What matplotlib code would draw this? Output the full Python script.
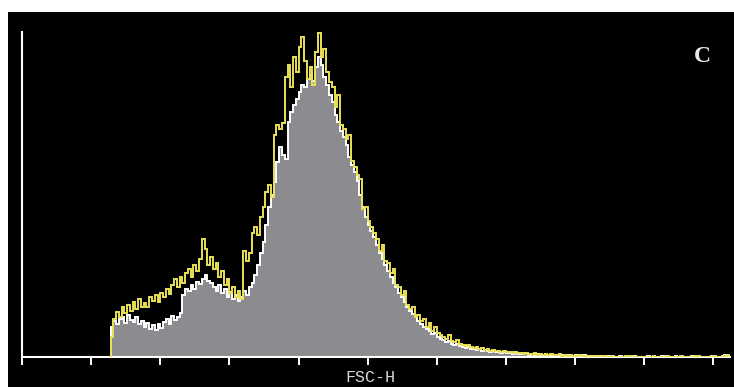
import matplotlib
matplotlib.use("Agg")
import matplotlib.pyplot as plt
from matplotlib.patches import Rectangle
import numpy as np

# channel edges (FSC-H, 256 channel scale), data starts at channel 32
edges = np.arange(32, 257)

# grey filled histogram (white outline)
grey_counts = [
    30, 36, 33, 38, 40, 34, 42, 37, 35, 40, 33, 36, 30, 34, 28, 32,
    27, 33, 29, 35, 38, 33, 41, 37, 40, 44, 62, 68, 66, 72, 68, 75,
    73, 78, 82, 76, 74, 70, 66, 72, 64, 68, 60, 65, 58, 62, 56, 60,
    66, 62, 70, 74, 82, 92, 104, 115, 132, 150, 162, 175, 195, 210, 202, 198,
    235, 245, 252, 258, 265, 272, 270, 278, 282, 276, 290, 300, 292, 280, 272, 262,
    255, 242, 235, 226, 220, 212, 200, 192, 185, 176, 162, 150, 140, 132, 126, 120,
    112, 104, 98, 92, 86, 80, 74, 70, 64, 60, 55, 50, 46, 43, 40, 36,
    33, 30, 28, 26, 23, 24, 20, 18, 17, 15, 16, 13, 12, 13, 11, 10,
    9, 10, 8, 8, 7, 8, 6, 7, 6, 5, 6, 5, 5, 4, 5, 4,
    4, 3, 4, 3, 3, 3, 4, 2, 3, 2, 3, 2, 2, 3, 2, 2,
    2, 1, 2, 2, 1, 2, 1, 1, 2, 1, 1, 2, 1, 0, 1, 1,
    0, 1, 0, 0, 1, 0, 0, 0, 1, 0, 0, 0, 0, 1, 0, 0,
    0, 0, 1, 0, 0, 0, 0, 1, 0, 0, 0, 0, 1, 0, 0, 0,
    0, 0, 1, 0, 0, 0, 0, 0, 0, 1, 0, 0, 0, 1, 2, 0,
]

# yellow overlay histogram
yellow_counts = [
    20, 38, 45, 40, 50, 44, 52, 46, 55, 48, 58, 50, 54, 50, 60, 56,
    62, 55, 64, 60, 68, 63, 72, 78, 70, 80, 74, 84, 88, 80, 92, 86,
    98, 118, 108, 92, 100, 88, 94, 80, 86, 72, 78, 64, 70, 60, 66, 58,
    106, 96, 104, 124, 130, 122, 140, 150, 165, 172, 160, 222, 232, 228, 234, 280,
    292, 270, 300, 285, 310, 320, 296, 278, 290, 272, 305, 324, 300, 308, 285, 275,
    270, 250, 262, 232, 228, 218, 222, 196, 190, 182, 178, 148, 150, 136, 130, 124,
    118, 106, 112, 96, 94, 84, 88, 72, 70, 62, 66, 52, 48, 50, 40, 42,
    36, 38, 30, 34, 26, 30, 24, 22, 20, 18, 22, 16, 15, 17, 13, 12,
    11, 12, 10, 9, 10, 8, 9, 7, 8, 6, 7, 6, 6, 5, 6, 5,
    5, 4, 5, 4, 4, 3, 4, 3, 3, 4, 2, 3, 2, 3, 2, 3,
    2, 2, 3, 1, 2, 1, 2, 1, 1, 2, 1, 1, 1, 1, 0, 1,
    1, 0, 1, 0, 0, 1, 0, 0, 0, 0, 1, 0, 1, 0, 0, 0,
    0, 0, 0, 0, 1, 0, 0, 0, 0, 1, 0, 0, 0, 0, 1, 0,
    0, 0, 0, 1, 1, 0, 0, 0, 0, 0, 1, 0, 0, 0, 1, 2,
]

xticks = np.arange(0, 251, 25)

fig = plt.figure(figsize=(7.34, 3.87), dpi=100)
fig.patch.set_facecolor("white")

# black panel (white margin left and top like the scanned figure)
panel = Rectangle((8 / 734, 0), 726 / 734, 1 - 12 / 387,
                  transform=fig.transFigure, facecolor="black",
                  edgecolor="none", zorder=-10)
fig.add_artist(panel)

ax = fig.add_axes([22 / 734, 30 / 387, 708 / 734, 325 / 387])
ax.set_zorder(5)
ax.patch.set_alpha(0)

ax.stairs(grey_counts, edges, fill=True, color="#8b8b90", zorder=2)
ax.stairs(grey_counts, edges, color="white", lw=1.4, zorder=3)
ax.stairs(yellow_counts, edges, color="#e9e158", lw=1.4, zorder=4)

ax.set_xlim(0, 256)
ax.set_ylim(0, 325)

for s in ["top", "right"]:
    ax.spines[s].set_visible(False)
for s in ["left", "bottom"]:
    ax.spines[s].set_color("white")
    ax.spines[s].set_linewidth(1.5)

ax.set_xticks(xticks)
ax.set_xticklabels([])
ax.set_yticks([])
ax.tick_params(axis="x", colors="white", length=6, width=1.4, direction="out")

fig.text(370 / 734, 1 - 377 / 387, "FSC-H", color="#d8d8d8", fontsize=12,
         family="Liberation Mono", ha="center", va="center", zorder=6)
fig.text(702 / 734, 1 - 57 / 387, "C", color="#e8e8e8", fontsize=17,
         family="Liberation Serif", weight="bold", ha="center", va="center",
         zorder=6)

fig.savefig("out.png", dpi=100, facecolor=fig.get_facecolor())
